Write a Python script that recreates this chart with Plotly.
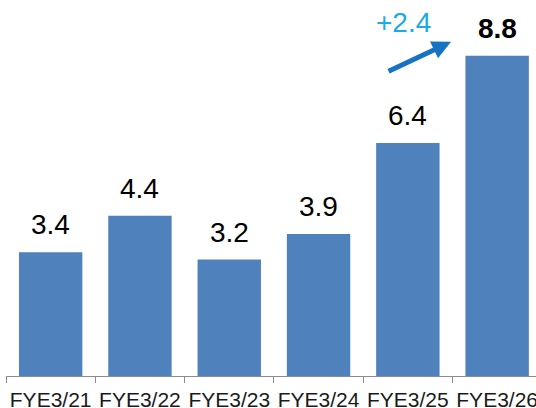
import plotly.graph_objects as go

categories = ["FYE3/21", "FYE3/22", "FYE3/23", "FYE3/24", "FYE3/25", "FYE3/26"]
values = [3.4, 4.4, 3.2, 3.9, 6.4, 8.8]
label_bold = [False, False, False, False, False, True]

BAR_COLOR = "#4F81BD"
FONT = "Liberation Sans, Arial, sans-serif"

fig = go.Figure(go.Bar(
    x=categories, y=values,
    marker=dict(color=BAR_COLOR, line=dict(width=0)),
    width=0.71,
    hoverinfo="skip",
))

annotations = []
for i, (v, b) in enumerate(zip(values, label_bold)):
    annotations.append(dict(
        x=i, y=v, xref="x", yref="y",
        text=f"<b>{v:.1f}</b>" if b else f"{v:.1f}",
        showarrow=False, yanchor="bottom", yshift=10,
        font=dict(family=FONT, size=28, color="#000000"),
    ))

# growth arrow between last two bars
diff = values[-1] - values[-2]
annotations.append(dict(
    x=4.483, y=9.18, ax=3.767, ay=8.35, xref="x", yref="y", axref="x", ayref="y",
    text="", showarrow=True, arrowhead=2, arrowsize=0.75, arrowwidth=5,
    arrowcolor="#1573C2", standoff=0, startstandoff=0,
))
annotations.append(dict(
    x=3.95, y=9.71, xref="x", yref="y",
    text=f"+{diff:.1f}", showarrow=False, yanchor="middle",
    font=dict(family=FONT, size=28, color="#1BAAE6"),
))

fig.update_layout(
    width=536, height=408,
    margin=dict(l=6, r=0, t=0, b=32, autoexpand=False),
    paper_bgcolor="white", plot_bgcolor="white",
    showlegend=False,
    annotations=annotations,
    xaxis=dict(
        type="category",
        range=[-0.5, 5.435],
        tickangle=0, automargin=False,
        tickson="boundaries", ticks="outside", ticklen=6, tickcolor="#8c8c8c", tickwidth=1,
        ticklabeloverflow="allow", ticklabelstandoff=5,
        showline=True, linecolor="#8c8c8c", linewidth=1,
        showgrid=False, zeroline=False,
        tickfont=dict(family=FONT, size=21, color="#1a1a1a"),
    ),
    yaxis=dict(
        range=[0, 10.33], visible=False, showgrid=False, zeroline=False,
    ),
)

fig.write_html(
    "out.html",
    config={"displayModeBar": False, "staticPlot": True},
    post_script="document.body.style.margin='0';document.body.style.overflow='hidden';",
)
